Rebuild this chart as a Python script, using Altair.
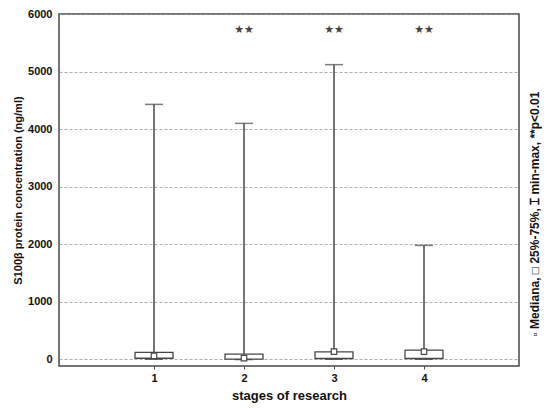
import altair as alt
import pandas as pd

stages = [1, 2, 3, 4]
mins = [5, 0, 5, 5]
q1 = [20, 5, 15, 15]
medians = [60, 20, 135, 135]
q3 = [120, 90, 130, 160]
maxs = [4430, 4100, 5120, 1980]
sig_stages = [2, 3, 4]
sig_labels = ["★★", "★★", "★★"]
sig_y = [5720, 5720, 5720]

df = pd.DataFrame({"stage": stages, "min": mins, "q1": q1, "median": medians,
                   "q3": q3, "max": maxs})
sig = pd.DataFrame({"stage": sig_stages, "label": sig_labels, "y": sig_y})

FONT = "Liberation Sans"
GRAY = "#474747"

xs = alt.X("stage:Q", scale=alt.Scale(domain=[0, 5], nice=False, zero=False),
           axis=alt.Axis(values=[1, 2, 3, 4], format="d", title="stages of research",
                         grid=False, domain=False, ticks=True, tickSize=3, tickColor=GRAY,
                         labelFont=FONT, labelFontWeight="bold", labelFontSize=11,
                         labelColor="#111", labelPadding=3,
                         titleFont=FONT, titleFontWeight="bold", titleFontSize=13,
                         titleColor="#111", titlePadding=6))
ys = alt.Y("max:Q", scale=alt.Scale(domain=[-115, 6000], nice=False, zero=False),
           axis=alt.Axis(values=[0, 1000, 2000, 3000, 4000, 5000, 6000], format="d",
                         title="S100β protein concentration (ng/ml)",
                         grid=True, gridColor="#9a9a9a", gridDash=[3, 2], gridWidth=0.8,
                         domain=False, ticks=False,
                         labelFont=FONT, labelFontWeight="bold", labelFontSize=11,
                         labelColor="#111", labelPadding=7,
                         titleFont=FONT, titleFontWeight="bold", titleFontSize=11,
                         titleColor="#111", titlePadding=4))

base = alt.Chart(df)

whisker = base.mark_rule(color=GRAY, strokeWidth=1.5).encode(x=xs, y=ys, y2="min:Q")
cap_max = base.mark_tick(orient="horizontal", size=18, thickness=1.5, color=GRAY).encode(
    x="stage:Q", y="max:Q")
cap_min = base.mark_tick(orient="horizontal", size=18, thickness=1.8, color="#333").encode(
    x="stage:Q", y="min:Q")
box = base.mark_bar(size=38, fill="white", stroke=GRAY, strokeWidth=1.3).encode(
    x="stage:Q", y="q1:Q", y2="q3:Q")
med = base.mark_square(size=30, fill="white", stroke=GRAY, strokeWidth=1.2, opacity=1).encode(
    x="stage:Q", y="median:Q")

stars = alt.Chart(sig).mark_text(font="DejaVu Sans", fontSize=11, color="#444",
                                 fontWeight="bold").encode(
    x="stage:Q", y="y:Q", text="label:N")

legend = alt.Chart(pd.DataFrame({"t": ["▫ Mediana, □ 25%-75%, ⌶ min-max,  **p<0.01"]})).mark_text(
    font=FONT, fontSize=12, fontWeight="bold", angle=270, color="#111", baseline="middle",
    align="center").encode(x=alt.value(476), y=alt.value(200), text="t:N")

chart = alt.layer(whisker, cap_max, cap_min, box, med, stars, legend).properties(
    width=460, height=352,
    autosize=alt.AutoSizeParams(type="none"),
    padding={"left": 51, "top": 6, "right": 23, "bottom": 40},
    background="white",
).configure_view(stroke=GRAY, strokeWidth=1.5)

chart.save("out.html", embed_options={"renderer": "svg", "actions": False})
